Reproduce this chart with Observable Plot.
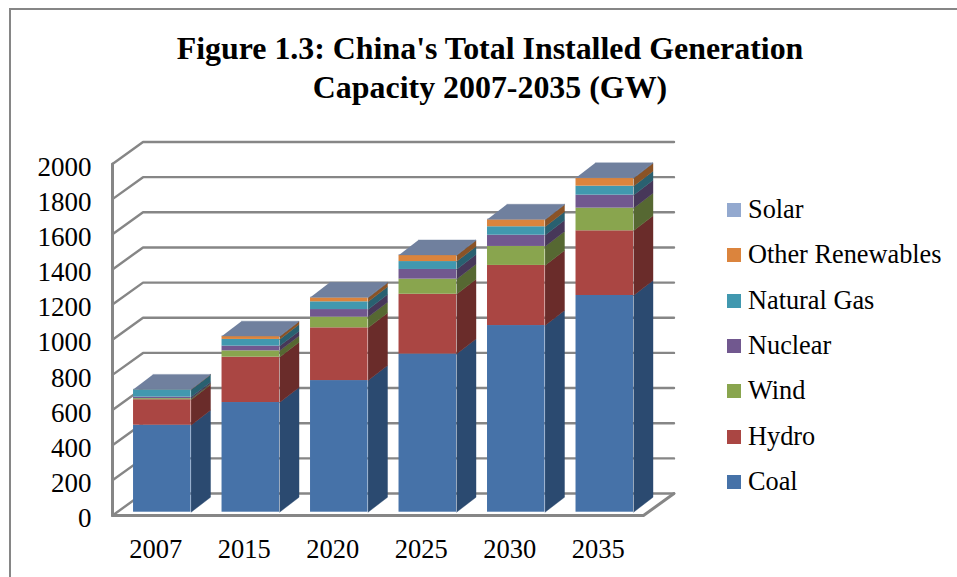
<!DOCTYPE html>
<html>
<head>
<meta charset="utf-8">
<script src="https://cdn.jsdelivr.net/npm/d3@7"></script>
<script src="https://cdn.jsdelivr.net/npm/@observablehq/plot@0.6"></script>
<style>
  html, body { margin: 0; padding: 0; background: #fff; }
  #figure { position: relative; width: 957px; height: 577px; overflow: hidden; font-family: "Liberation Serif", serif; color: #000; }
  #frame { position: absolute; left: 9px; top: 8px; right: -4px; bottom: -4px; border: 2px solid #868686; box-sizing: border-box; pointer-events: none; }
  #title { height: 120px; box-sizing: border-box; padding-top: 29px; margin-left: 24px; width: 932px; text-align: center; font-weight: bold; font-size: 31.9px; line-height: 39px; }
  #legend { position: absolute; left: 727px; top: 187.5px; }
  #legend div { display: flex; align-items: center; height: 45.3px; font-size: 26.3px; white-space: nowrap; }
  #legend i { display: block; width: 14px; height: 14px; margin-right: 7px; }
  svg { display: block; overflow: visible; }
</style>
</head>
<body>
<div id="figure">
  <div id="frame"></div>
  <div id="title">Figure 1.3: China's Total Installed Generation<br>Capacity 2007-2035 (GW)</div>
  <div id="chart"></div>
  <div id="legend"></div>
</div>
<script>
// Installed capacity by source, GW
const years = ["2007", "2015", "2020", "2025", "2030", "2035"];
const coal = [495, 624, 749, 900, 1062, 1233];
const hydro = [145, 258, 300, 340, 342, 368];
const wind = [6, 36, 61, 86, 108, 129];
const nuclear = [9, 27, 43, 55, 64, 74];
const naturalGas = [42, 38, 44, 45, 48, 51];
const otherRenewables = [1, 17, 23, 35, 40, 45];
const solar = [1, 2, 3, 3, 3, 3];

const sources = [
  {name: "Coal", values: coal, front: "#4672a8", side: "#2b4a70"},
  {name: "Hydro", values: hydro, front: "#aa4643", side: "#6a2c2a"},
  {name: "Wind", values: wind, front: "#89a54e", side: "#566832"},
  {name: "Nuclear", values: nuclear, front: "#71588f", side: "#473759"},
  {name: "Natural Gas", values: naturalGas, front: "#4198af", side: "#296070"},
  {name: "Other Renewables", values: otherRenewables, front: "#db843d", side: "#8a5326"},
  {name: "Solar", values: solar, front: "#93a9cf", side: "#5d6b83"}
];
const capColor = "#70809e";
const axisColor = "#868686";
const yTicks = d3.range(0, 2001, 200);

// Oblique projection: the depth axis shifts x (in category slots) and y (in GW)
const depthX = 0.345;
const depthY = 125;
const barFrontDepth = 0.15;
const barBackDepth = 0.83;
const barStart = 0.186;
const barWidth = 0.65;
const barShiftX = 0.22;
const nearX = i => i + barStart + barFrontDepth * depthX;
const nearY = v => v + barFrontDepth * depthY;
const farY = v => v + barBackDepth * depthY;

// Stack the sources per year
const segments = [];
years.forEach((year, i) => {
  let base = 0;
  for (const s of sources) {
    segments.push({i, year, name: s.name, y0: base, y1: base + s.values[i]});
    base += s.values[i];
  }
});

const sidePolygon = d => {
  const x0 = nearX(d.i) + barWidth, x1 = x0 + barShiftX;
  return [[x0, nearY(d.y0)], [x1, farY(d.y0)], [x1, farY(d.y1)], [x0, nearY(d.y1)]]
    .map(([x, y]) => ({x, y, id: d.year + d.name}));
};

const caps = years.flatMap((year, i) => {
  const top = d3.sum(sources, s => s.values[i]);
  const x0 = nearX(i), x1 = x0 + barWidth;
  return [[x0, nearY(top)], [x1, nearY(top)], [x1 + barShiftX, farY(top)], [x0 + barShiftX, farY(top)]]
    .map(([x, y]) => ({x, y, id: year}));
});

// Wall gridlines: each tick runs back along the left wall, then across the back wall
const grid = yTicks.flatMap(t => [
  {x: 0, y: t, id: t},
  {x: depthX, y: t + depthY, id: t},
  {x: years.length + depthX, y: t + depthY, id: t}
]);
const floorEdge = [
  {x: 0, y: 0},
  {x: years.length, y: 0},
  {x: years.length + depthX, y: depthY}
];
const leftEdge = [{x: 0, y: 0}, {x: 0, y: 2000}];

const marks = [
  Plot.line(grid, {x: "x", y: "y", z: "id", stroke: axisColor, strokeWidth: 2.4}),
  Plot.line(floorEdge, {x: "x", y: "y", stroke: axisColor, strokeWidth: 3}),
  Plot.line(leftEdge, {x: "x", y: "y", stroke: axisColor, strokeWidth: 3}),
];

for (const s of sources) {
  const rows = segments.filter(d => d.name === s.name);
  marks.push(
    Plot.line(rows.flatMap(sidePolygon), {x: "x", y: "y", z: "id", fill: s.side, stroke: s.side, strokeWidth: 0.4}),
    Plot.rect(rows, {
      x1: d => nearX(d.i),
      x2: d => nearX(d.i) + barWidth,
      y1: d => nearY(d.y0),
      y2: d => nearY(d.y1),
      fill: s.front
    })
  );
}
marks.push(
  Plot.line(caps, {x: "x", y: "y", z: "id", fill: capColor, stroke: capColor, strokeWidth: 0.4}),
  Plot.axisY({ticks: yTicks, tickSize: 0, tickPadding: 21, dy: 3, label: null, tickFormat: "d", fontSize: 27, fill: "#000", fontFamily: "Liberation Serif"}),
  Plot.axisX(years.map((_, i) => i + 0.5), {
    tickSize: 0,
    tickPadding: 24,
    dx: -1,
    label: null,
    tickFormat: c => years[Math.floor(c)],
    fontSize: 26.5,
    fill: "#000",
    fontFamily: "Liberation Serif"
  })
);

const chart = Plot.plot({
  width: 957,
  height: 457,
  marginLeft: 112,
  marginRight: 283.5,
  marginTop: 21.5,
  marginBottom: 62,
  style: {background: "transparent", overflow: "visible"},
  x: {type: "linear", domain: [0, years.length + depthX]},
  y: {type: "linear", domain: [0, 2000 + depthY]},
  marks
});
document.getElementById("chart").append(chart);

// Legend runs from the top of the stack down
const legend = document.getElementById("legend");
for (const s of [...sources].reverse()) {
  const row = document.createElement("div");
  const key = document.createElement("i");
  key.style.background = s.front;
  row.append(key, s.name);
  legend.append(row);
}
</script>
</body>
</html>
